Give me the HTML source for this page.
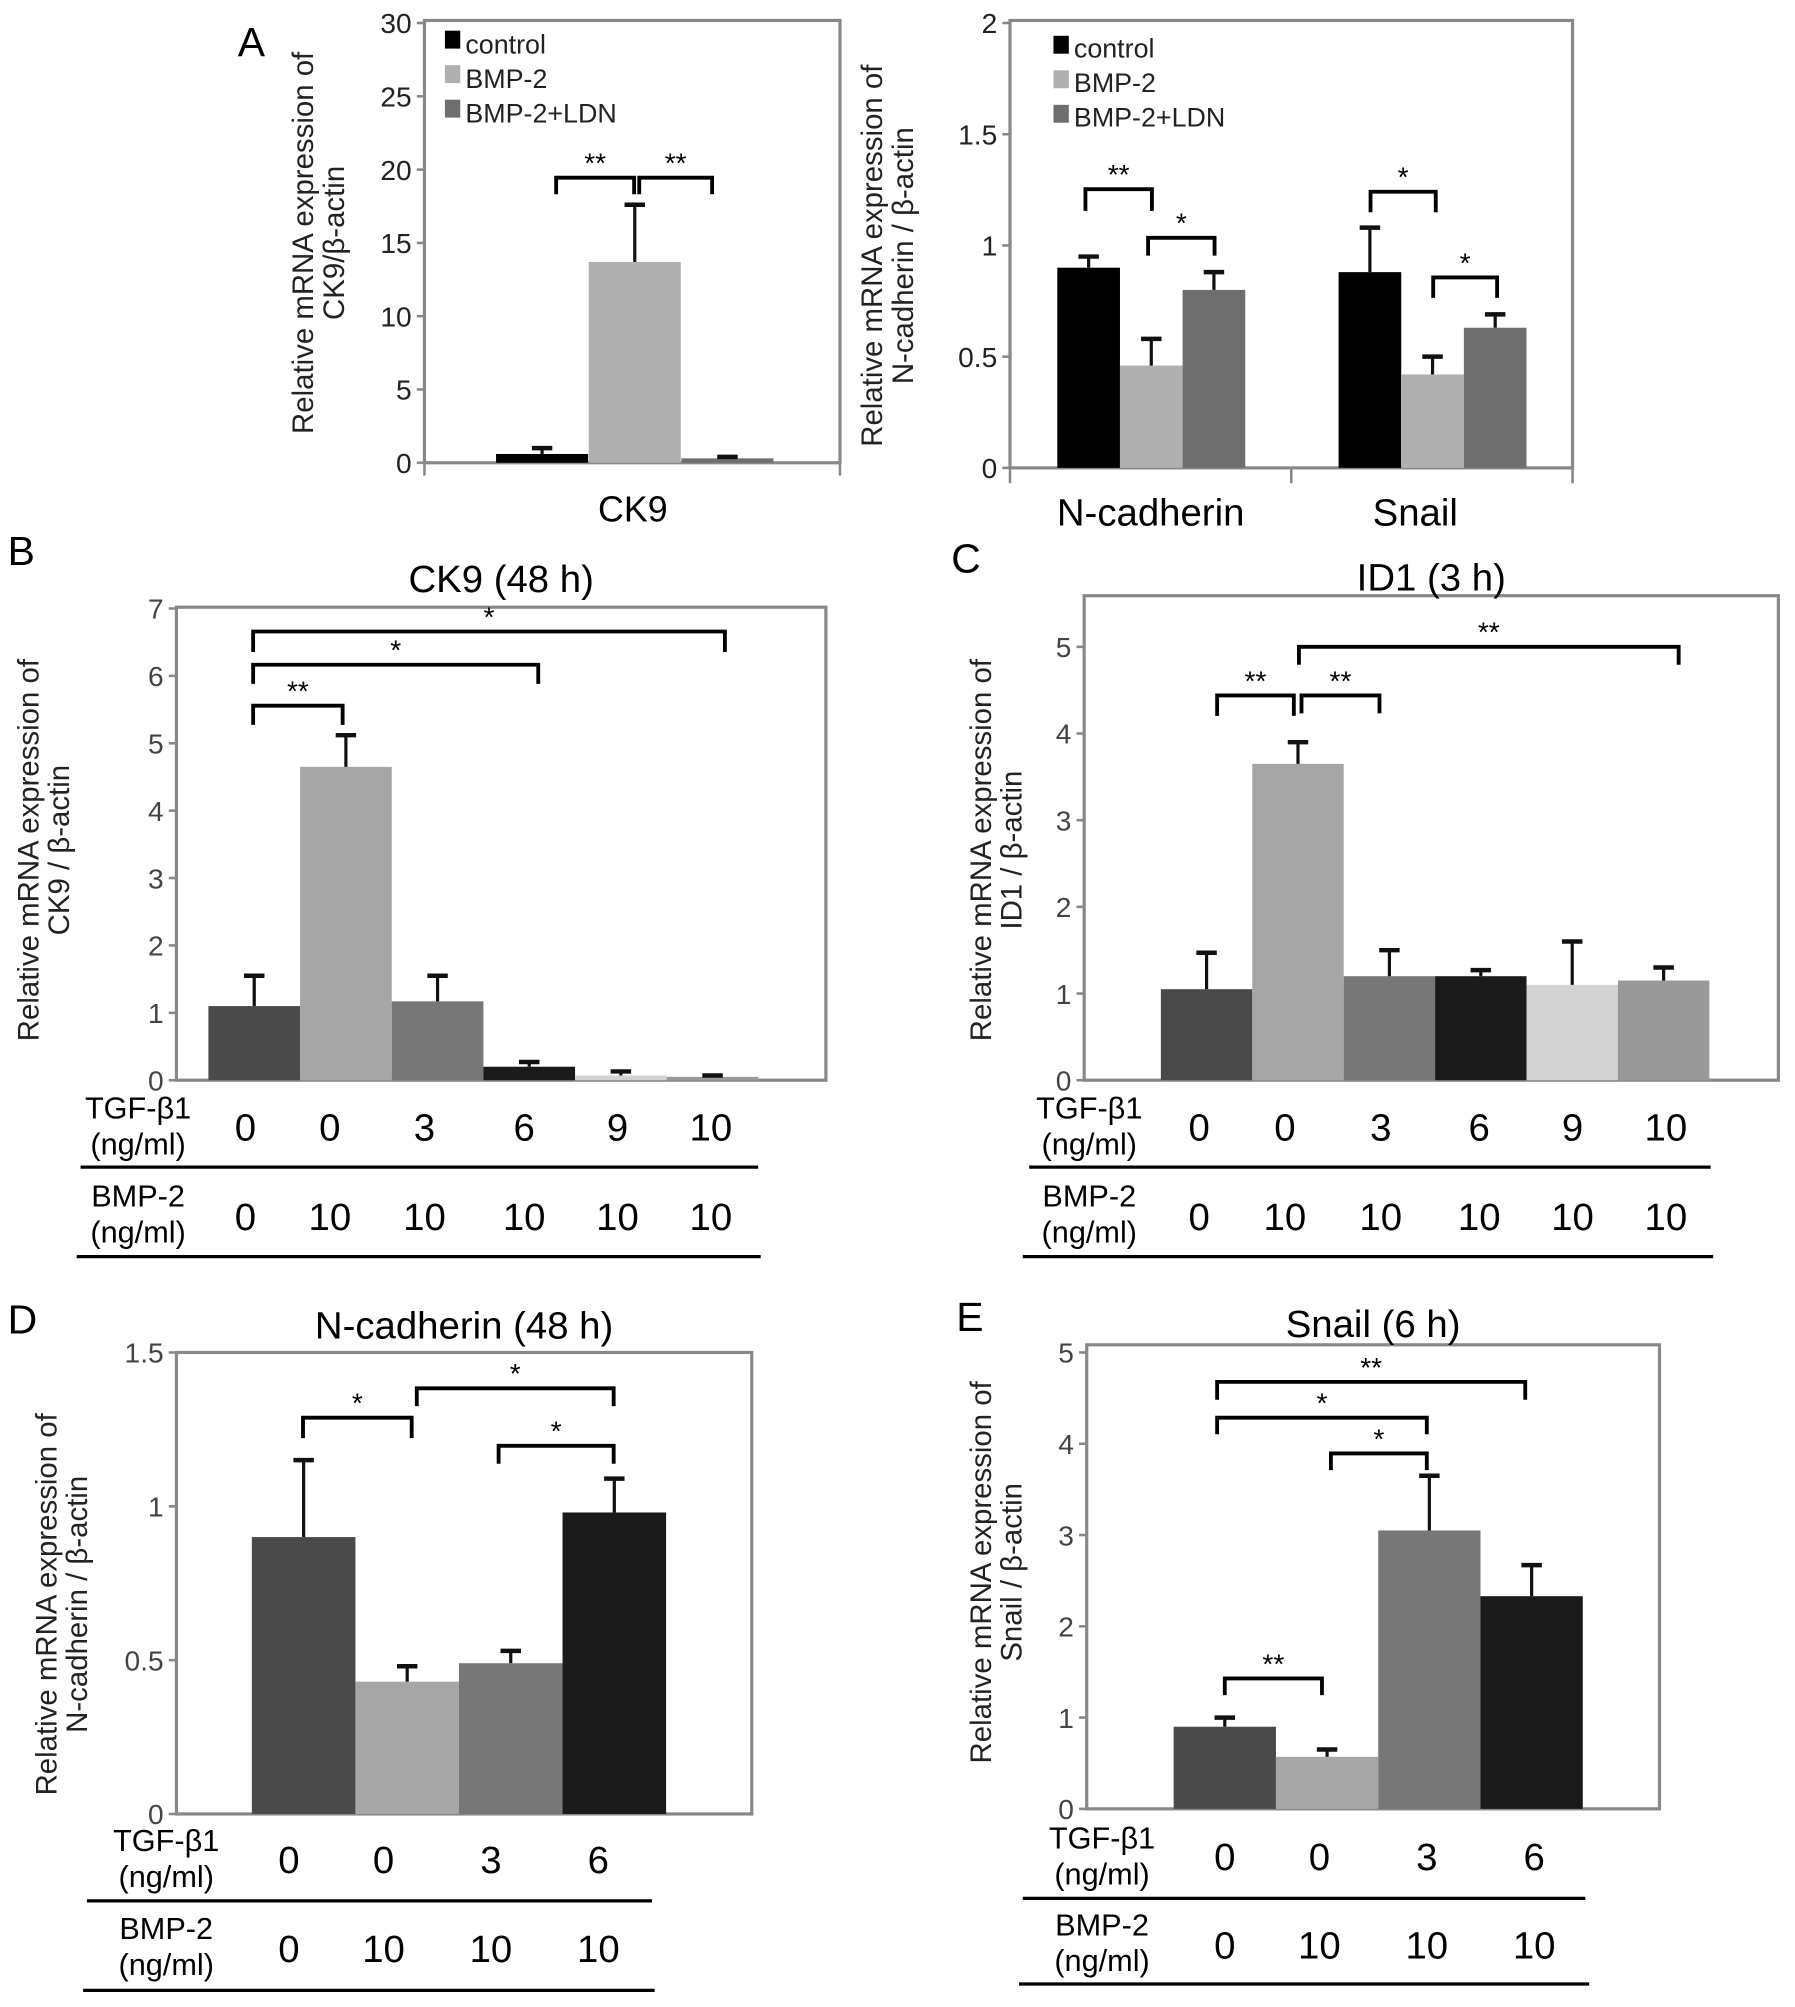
<!DOCTYPE html>
<html><head><meta charset="utf-8"><style>
html,body{margin:0;padding:0;background:#fff}
svg{display:block}
text{font-family:"Liberation Sans",Arial,sans-serif}
</style></head><body>
<svg id="fig" width="1795" height="2007" viewBox="0 0 1404 1570" preserveAspectRatio="none" xmlns="http://www.w3.org/2000/svg">
<text x="186" y="44" font-size="32">A</text>
<text x="6" y="442" font-size="32">B</text>
<text x="744" y="448" font-size="32">C</text>
<text x="6" y="1043" font-size="32">D</text>
<text x="748" y="1041" font-size="32">E</text>
</svg>
<script>
// ---- data ----
const aCk9Categories = ["CK9"];
const aSeries = ["control","BMP-2","BMP-2+LDN"];
const aCk9Values = [0.6, 13.7, 0.3];
const aCk9Err = [1.0, 17.6, 0.4];
const aCk9Ticks = ["0","5","10","15","20","25","30"];
const aEmtCategories = ["N-cadherin","Snail"];
const aEmtValues = [[0.9,0.46,0.8],[0.88,0.42,0.63]];
const aEmtErr = [[0.95,0.58,0.88],[1.08,0.5,0.69]];
const aEmtTicks = ["0","0.5","1","1.5","2"];
const bTgf = ["0","0","3","6","9","10"];
const bBmp = ["0","10","10","10","10","10"];
const bValues = [1.1,4.65,1.17,0.2,0.07,0.05];
const bErr = [1.55,5.12,1.55,0.27,0.13,0.07];
const bTicks = ["0","1","2","3","4","5","6","7"];
const cValues = [1.05,3.65,1.2,1.2,1.1,1.15];
const cErr = [1.47,3.9,1.5,1.27,1.6,1.3];
const cTicks = ["0","1","2","3","4","5"];
const dTgf = ["0","0","3","6"];
const dBmp = ["0","10","10","10"];
const dValues = [0.9,0.43,0.49,0.98];
const dErr = [1.15,0.48,0.53,1.09];
const dTicks = ["0","0.5","1","1.5"];
const eValues = [0.9,0.57,3.05,2.33];
const eErr = [1.0,0.65,3.65,2.67];
const eTicks = ["0","1","2","3","4","5"];

const NS="http://www.w3.org/2000/svg";
const svg=document.getElementById('fig');
function mk(tag,attrs,parent){const e=document.createElementNS(NS,tag);for(const k in attrs)e.setAttribute(k,attrs[k]);(parent||svg).appendChild(e);return e;}
function txt(x,y,s,size,anchor,fill,parent){const t=mk('text',{x:x,y:y,'font-size':size,'text-anchor':anchor||'middle',fill:fill||'#000'},parent);t.textContent=s;return t;}

function panel(o){
  const g=mk('g',{});
  
  
  const y=v=>o.y0-(v/o.max)*(o.y0-o.yTop);
  const fr=mk('rect',{x:o.x0,y:o.top,width:o.x1-o.x0,height:o.y0-o.top,fill:'none',stroke:'#888','stroke-width':2.5},g);
  
  
  o.ticks.forEach((t,i)=>{
    const v=parseFloat(t); const yy=y(v);
    mk('line',{x1:o.x0-6,x2:o.x0,y1:yy,y2:yy,stroke:'#888','stroke-width':2},g);
    const tl=txt(o.x0-10,yy+8,t,o.tickSize||22,'end',o.tickColor||'#444',g);
    
    
  });
  const yl=mk('text',{transform:`translate(${o.ylx},${o.yly}) rotate(-90)`,'font-size':23,'text-anchor':'middle',fill:'#222'},g);
  
  
  const t1=mk('tspan',{x:0,y:0},yl);t1.textContent=o.ylab[0];
  const t2=mk('tspan',{x:0,y:24},yl);t2.textContent=o.ylab[1];
  o.bars.forEach((b,i)=>{
    const r=mk('rect',{x:b.x,y:y(b.v),width:b.w,height:o.y0-y(b.v),fill:b.c},g);
    
    
    const cx=b.x+b.w/2, ye=y(b.e);
    mk('line',{x1:cx,x2:cx,y1:y(b.v),y2:ye,stroke:'#111','stroke-width':2.5},g);
    mk('line',{x1:cx-8,x2:cx+8,y1:ye,y2:ye,stroke:'#111','stroke-width':3.5},g);
  });
  if(o.title){const tt=txt((o.x0+o.x1)/2,o.titleY,o.title,30,'middle','#000',g);}
  (o.brackets||[]).forEach(b=>{
    const p=mk('path',{d:`M${b[0]} ${b[3]} V${b[2]} H${b[1]} V${b[3]}`,fill:'none',stroke:'#000','stroke-width':3},g);
    
    
    txt((b[0]+b[1])/2,b[2]-4,b[4],22,'middle','#000',g);
  });
  return {g,y};
}

function table(o,g){
  txt(o.lx,o.r1+2,'TGF-β1',24,'middle','#000',g);
  txt(o.lx,o.r1+30,'(ng/ml)',24,'middle','#000',g);
  txt(o.lx,o.r2+2,'BMP-2',24,'middle','#000',g);
  txt(o.lx,o.r2+30,'(ng/ml)',24,'middle','#000',g);
  o.tgf.forEach((s,i)=>{const t=txt(o.xs[i],o.r1+19,s,30,'middle','#000',g);});
  o.bmp.forEach((s,i)=>{const t=txt(o.xs[i],o.r2+20,s,30,'middle','#000',g);});
  mk('line',{x1:o.l1[0],x2:o.l1[1],y1:o.l1[2],y2:o.l1[2],stroke:'#000','stroke-width':2.5},g);
  mk('line',{x1:o.l2[0],x2:o.l2[1],y1:o.l2[2],y2:o.l2[2],stroke:'#000','stroke-width':2.5},g);
}
function seqBars(x0,w,vals,errs,cols){return vals.map((v,i)=>({x:x0+i*w,w:w,v:v,e:errs[i],c:cols[i]}));}
const six=['#4a4a4a','#a6a6a6','#777','#1a1a1a','#d2d2d2','#999'];
const legendCols=['#000','#b0b0b0','#6e6e6e'];

// Panel A left
const aBars=aCk9Values.map((v,i)=>({x:388+i*72.5,w:72,v:v,e:aCk9Err[i],c:legendCols[i]}));
const pA1=panel({name:'panel-a-ck9',x0:332,x1:657,top:16,y0:362,yTop:18,max:30,ticks:aCk9Ticks,tickSize:22,tickColor:'#222',
  ylx:245,yly:190,ylab:['Relative mRNA expression of','CK9/β-actin'],bars:aBars,
  brackets:[[435,496,139,152,'**'],[500,557,139,152,'**']]});
mk('line',{x1:332,x2:332,y1:362,y2:372,stroke:'#888','stroke-width':2},pA1.g);
mk('line',{x1:657,x2:657,y1:362,y2:372,stroke:'#888','stroke-width':2},pA1.g);
aCk9Categories.forEach(c=>{const t=txt(495,408,c,28,'middle','#000',pA1.g);});
aSeries.forEach((s,i)=>{
  mk('rect',{x:348,y:24+i*27,width:12,height:14,fill:legendCols[i]},pA1.g);
  const t=txt(364,42+i*27,s,21,'start','#222',pA1.g);
  
  
});

// Panel A right
const emtStarts=[827,1047];
const aBars2=[];
aEmtValues.forEach((grp,gi)=>grp.forEach((v,i)=>aBars2.push({x:emtStarts[gi]+i*49,w:49,v:v,e:aEmtErr[gi][i],c:legendCols[i]})));
const pA2=panel({name:'panel-a-emt',x0:790,x1:1230,top:16,y0:366,yTop:18,max:2,ticks:aEmtTicks,tickSize:22,tickColor:'#222',
  ylx:690,yly:200,ylab:['Relative mRNA expression of','N-cadherin / β-actin'],bars:aBars2,
  brackets:[[849,901,148,165,'**'],[898,950,186,200,'*'],[1072,1123,150,166,'*'],[1121,1171,217,233,'*']]});
[790,1010,1230].forEach(x=>mk('line',{x1:x,x2:x,y1:366,y2:378,stroke:'#888','stroke-width':2},pA2.g));
aEmtCategories.forEach((c,i)=>{const t=txt([900,1107][i],411,c,30,'middle','#000',pA2.g);});
aSeries.forEach((s,i)=>{
  mk('rect',{x:824,y:28+i*27,width:12,height:14,fill:legendCols[i]},pA2.g);
  const t=txt(840,45+i*27,s,21,'start','#222',pA2.g);
  
  
});

// Panel B
const pB=panel({name:'panel-b-ck9-48h',x0:138,x1:646,top:475,y0:845,yTop:476,max:7,ticks:bTicks,title:'CK9 (48 h)',titleY:463,
  ylx:30,yly:665,ylab:['Relative mRNA expression of','CK9 / β-actin'],bars:seqBars(163,71.7,bValues,bErr,six),
  brackets:[[198,268,552,567,'**'],[198,421,520,535,'*'],[198,567,494,510,'*']]});
table({lx:108,r1:873,r2:942,tgf:bTgf,bmp:bBmp,xs:[192,258,332,410,483,556],l1:[63,593,913],l2:[60,595,983]},pB.g);

// Panel C
const pC=panel({name:'panel-c-id1-3h',x0:848,x1:1391,top:466,y0:845,yTop:506,max:5,ticks:cTicks,title:'ID1 (3 h)',titleY:462,
  ylx:775,yly:665,ylab:['Relative mRNA expression of','ID1 / β-actin'],bars:seqBars(908,71.5,cValues,cErr,six),
  brackets:[[952,1012,544,560,'**'],[1018,1079,544,558,'**'],[1016,1313,506,520,'**']]});
table({lx:852,r1:873,r2:942,tgf:bTgf,bmp:bBmp,xs:[938,1005,1080,1157,1230,1303],l1:[805,1338,913],l2:[800,1340,983]},pC.g);

// Panel D
const pD=panel({name:'panel-d-ncadherin-48h',x0:138,x1:588,top:1058,y0:1419,yTop:1058,max:1.5,ticks:dTicks,title:'N-cadherin (48 h)',titleY:1047,
  ylx:44,yly:1255,ylab:['Relative mRNA expression of','N-cadherin / β-actin'],bars:seqBars(197,81,dValues,dErr,six.slice(0,3).concat(['#1a1a1a'])),
  brackets:[[237,322,1109,1125,'*'],[326,480,1086,1100,'*'],[390,480,1131,1145,'*']]});
table({lx:130,r1:1446,r2:1515,tgf:dTgf,bmp:dBmp,xs:[226,300,384,468],l1:[68,510,1487],l2:[65,512,1557]},pD.g);

// Panel E
const pE=panel({name:'panel-e-snail-6h',x0:850,x1:1298,top:1052,y0:1415,yTop:1058,max:5,ticks:eTicks,title:'Snail (6 h)',titleY:1046,
  ylx:775,yly:1230,ylab:['Relative mRNA expression of','Snail / β-actin'],bars:seqBars(918,80,eValues,eErr,six.slice(0,3).concat(['#1a1a1a'])),
  brackets:[[952,1193,1081,1095,'**'],[952,1116,1109,1122,'*'],[1041,1116,1137,1150,'*'],[958,1034,1313,1326,'**']]});
table({lx:862,r1:1444,r2:1512,tgf:dTgf,bmp:dBmp,xs:[958,1032,1116,1200],l1:[800,1240,1485],l2:[797,1243,1552]},pE.g);
</script>
</body></html>
